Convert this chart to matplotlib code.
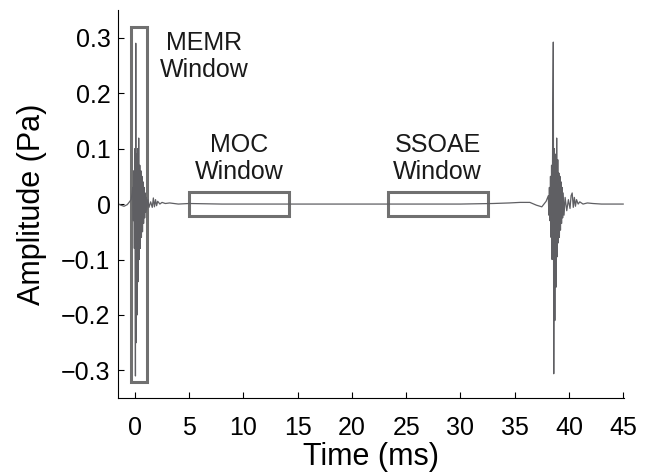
import matplotlib.pyplot as plt
from matplotlib.patches import Rectangle

plt.rcParams['font.family'] = ['Liberation Sans', 'DejaVu Sans']

time_ms = [-1.5, -1.3, -1.0, -0.7, -0.5, -0.35, -0.25,
           -0.20, -0.15, -0.10, -0.05, 0.00, 0.05, 0.08, 0.12, 0.16, 0.20,
           0.25, 0.30, 0.35, 0.40, 0.45, 0.50, 0.55, 0.60, 0.65, 0.70,
           0.75, 0.80, 0.85, 0.90, 0.95, 1.00, 1.05, 1.10, 1.20, 1.30,
           1.45, 1.60, 1.70, 1.80, 1.90, 2.00, 2.10, 2.30, 2.50, 2.80,
           3.20, 4.0, 5.0, 8.0, 12.0, 16.0, 20.0, 25.0, 30.0, 33.0, 34.5,
           35.5, 36.4, 37.0, 37.5, 37.9, 38.1,
           38.15, 38.20, 38.25, 38.30, 38.35, 38.40, 38.45, 38.50, 38.56,
           38.60, 38.65, 38.70, 38.75, 38.80, 38.87, 38.92, 38.97, 39.02,
           39.07, 39.12, 39.17, 39.22, 39.27, 39.32, 39.37, 39.42, 39.47,
           39.55, 39.65, 39.80, 39.95, 40.10, 40.20, 40.30, 40.40, 40.50,
           40.60, 40.70, 40.85, 41.0, 41.3, 41.7, 42.2, 43.0, 44.0, 45.0]
amp_pa = [0.0, -0.002, -0.004, -0.001, 0.004, 0.008, 0.02,
          0.03, -0.03, 0.06, -0.08, 0.10, -0.31, 0.29, -0.25, 0.09, -0.20,
          0.10, -0.14, 0.119, -0.10, 0.07, -0.08, 0.06, -0.06, 0.05, -0.05,
          0.04, -0.035, 0.03, -0.025, 0.02, -0.015, 0.012, -0.01, 0.008, -0.006,
          0.004, -0.006, 0.011, -0.005, 0.008, -0.003, 0.005, 0.0, 0.003, 0.001,
          0.002, 0.0, 0.001, 0.0, 0.0, 0.0, 0.0, 0.0, 0.0, 0.001, 0.002,
          0.003, 0.003, -0.002, -0.005, 0.005, 0.015,
          -0.02, 0.03, -0.03, 0.05, -0.06, 0.07, -0.10, 0.12, 0.292,
          -0.306, 0.10, -0.21, 0.09, -0.15, 0.119, -0.095, 0.08, -0.07,
          0.056, -0.06, 0.05, -0.047, 0.04, -0.035, 0.03, -0.025, 0.02,
          -0.02, 0.012, -0.012, 0.008, -0.008, 0.015, 0.02, -0.006, 0.012,
          -0.004, 0.008, 0.0, 0.004, 0.0, 0.002, 0.001, 0.0, 0.0, 0.0]

# analysis windows
win_labels = ["MEMR\nWindow", "MOC\nWindow", "SSOAE\nWindow"]
win_t0 = [-0.35, 5.0, 23.3]
win_t1 = [1.15, 14.2, 32.5]
win_lo = [-0.32, -0.022, -0.022]
win_hi = [0.32, 0.022, 0.022]
label_x = [6.4, 9.6, 27.9]
label_y = [0.266, 0.082, 0.082]

fig = plt.figure(figsize=(6.53, 4.74), dpi=100)
ax = fig.add_axes([0.18, 0.16, 0.776, 0.819])

ax.plot(time_ms, amp_pa, color="#5f5f63", linewidth=0.9)

for lab, t0, t1, lo, hi, lx, ly in zip(win_labels, win_t0, win_t1, win_lo, win_hi, label_x, label_y):
    ax.add_patch(Rectangle((t0, lo), t1 - t0, hi - lo, fill=False,
                           edgecolor="#707070", linewidth=2.2))
    ax.text(lx, ly, lab, ha="center", va="center", fontsize=18,
            color="#1a1a1a", linespacing=1.2)

ax.set_xlim(-1.6, 45.1)
ax.set_ylim(-0.35, 0.35)
ax.set_xticks(range(0, 46, 5))
ax.set_yticks([-0.3, -0.2, -0.1, 0, 0.1, 0.2, 0.3])
ax.set_yticklabels(["\u22120.3", "\u22120.2", "\u22120.1", "0", "0.1", "0.2", "0.3"])
ax.tick_params(direction="in", labelsize=18, length=4)
ax.tick_params(axis="y", pad=5)
ax.tick_params(axis="x", pad=13)
ax.spines["top"].set_visible(False)
ax.spines["right"].set_visible(False)
ax.set_xlabel("Time (ms)", fontsize=22, labelpad=1)
ax.set_ylabel("Amplitude (Pa)", fontsize=22, labelpad=10)

plt.savefig("out.png", dpi=100)
